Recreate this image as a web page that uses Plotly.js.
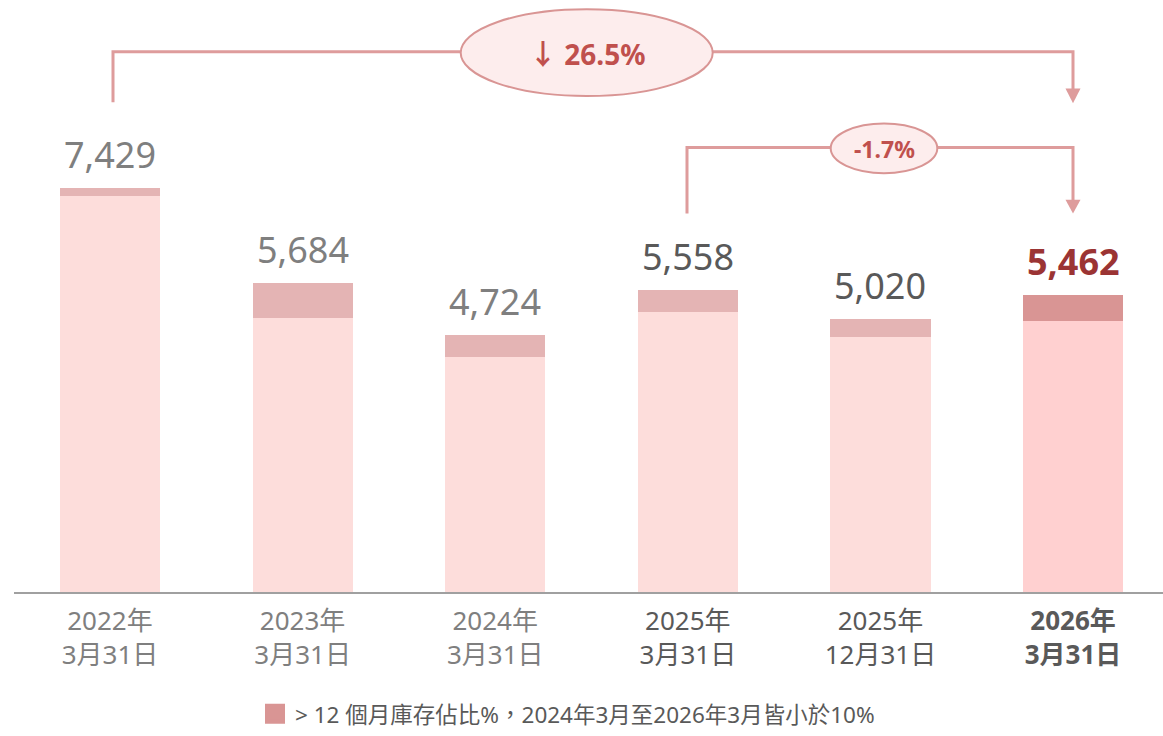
<!DOCTYPE html>
<html>
<head>
<meta charset="utf-8">
<script src="https://cdn.plot.ly/plotly-3.0.1.min.js"></script>
<style>html,body{margin:0;padding:0;background:#fff;}#chart{width:1163px;height:736px;}</style>
</head>
<body>
<div id="chart"></div>
<script>
// ---- data ----
const dateYear = ['2022年', '2023年', '2024年', '2025年', '2025年', '2026年'];
const dateDay = ['3月31日', '3月31日', '3月31日', '3月31日', '12月31日', '3月31日'];
const totals = [7429, 5684, 4724, 5558, 5020, 5462];
const over12 = [150, 650, 400, 407, 330, 474];
const legendText = '> 12 個月庫存佔比%，2024年3月至2026年3月皆小於10%';
const changeLong = '↓ 26.5%';
const changeShort = '-1.7%';

// ---- styling ----
const FONT = 'Noto Sans, Noto Sans CJK TC, sans-serif';
const lowerColors = ['#FDDDDB', '#FDDDDB', '#FDDDDB', '#FDDDDB', '#FDDDDB', '#FFD0D0'];
const upperColors = ['#E4B4B4', '#E4B4B4', '#E4B4B4', '#E4B4B4', '#E4B4B4', '#D99594'];
const labelColors = ['#7F7F7F', '#7F7F7F', '#7F7F7F', '#595959', '#595959', '#9B3434'];
const tickColors = ['#7F7F7F', '#7F7F7F', '#7F7F7F', '#595959', '#595959', '#595959'];

const idx = totals.map((_, i) => i);
const lower = totals.map((t, i) => t - over12[i]);
const tickText = idx.map(i => {
  let t = dateYear[i] + '<br>' + dateDay[i];
  if (i === idx.length - 1) t = '<b>' + t + '</b>';
  return '<span style="color:' + tickColors[i] + '">' + t + '</span>';
});

// plot-area geometry helpers (pixels -> paper)
const PL = 14, PW = 1149, PH = 596;
const fx = px => (px - PL) / PW;
const fy = py => (PH - py) / PH;

const traces = [
  {type: 'bar', x: idx, y: lower, marker: {color: lowerColors}, showlegend: false, hoverinfo: 'skip'},
  {type: 'bar', x: idx, y: over12, marker: {color: upperColors}, showlegend: false, hoverinfo: 'skip'},
  {type: 'scatter', mode: 'markers', x: [null], y: [null], name: legendText, showlegend: true,
   marker: {symbol: 'square', size: 22, color: '#D99594', line: {color: '#D99594', width: 4}}}
];

const annotations = idx.map(i => ({
  x: i, y: totals[i], xref: 'x', yref: 'y', xanchor: 'center', yanchor: 'bottom', yshift: 7,
  text: (i === idx.length - 1 ? '<b>' : '') + totals[i].toLocaleString('en-US') + (i === idx.length - 1 ? '</b>' : ''),
  showarrow: false,
  font: {family: FONT, size: 36, color: labelColors[i]}
}));
annotations.push({
  x: fx(587), y: fy(54), xref: 'paper', yref: 'paper', xanchor: 'center', yanchor: 'middle', showarrow: false,
  text: '<b>' + changeLong + '</b>', font: {family: FONT, size: 28, color: '#C0504D'}
});
annotations.push({
  x: fx(884), y: fy(150), xref: 'paper', yref: 'paper', xanchor: 'center', yanchor: 'middle', showarrow: false,
  text: '<b>' + changeShort + '</b>', font: {family: FONT, size: 23, color: '#C0504D'}
});

const LC = '#DE9C9C';
const shapes = [
  {type: 'path', xref: 'paper', yref: 'paper', layer: 'above',
   path: `M${fx(113)},${fy(103)} L${fx(113)},${fy(52)} L${fx(1073)},${fy(52)} L${fx(1073)},${fy(92)}`,
   line: {color: LC, width: 3}},
  {type: 'path', xref: 'paper', yref: 'paper', layer: 'above',
   path: `M${fx(1065.5)},${fy(89)} L${fx(1080.5)},${fy(89)} L${fx(1073)},${fy(104)} Z`,
   fillcolor: LC, line: {color: LC, width: 0}},
  {type: 'path', xref: 'paper', yref: 'paper', layer: 'above',
   path: `M${fx(687)},${fy(215)} L${fx(687)},${fy(148.5)} L${fx(1073)},${fy(148.5)} L${fx(1073)},${fy(203)}`,
   line: {color: LC, width: 3}},
  {type: 'path', xref: 'paper', yref: 'paper', layer: 'above',
   path: `M${fx(1065.5)},${fy(201)} L${fx(1080.5)},${fy(201)} L${fx(1073)},${fy(215)} Z`,
   fillcolor: LC, line: {color: LC, width: 0}},
  {type: 'circle', xref: 'paper', yref: 'paper', layer: 'above',
   x0: fx(460.7), x1: fx(712.7), y0: fy(96.7), y1: fy(9.3),
   fillcolor: '#FDEDED', line: {color: '#D99594', width: 2}},
  {type: 'circle', xref: 'paper', yref: 'paper', layer: 'above',
   x0: fx(830.7), x1: fx(937.3), y0: fy(174.3), y1: fy(124.3),
   fillcolor: '#FDEDED', line: {color: '#D99594', width: 2}}
];

const layout = {
  width: 1163, height: 736,
  margin: {l: PL, r: 0, t: 0, b: 736 - PH, pad: 0},
  paper_bgcolor: '#ffffff', plot_bgcolor: '#ffffff',
  barmode: 'stack', bargap: 0.48,
  font: {family: FONT},
  xaxis: {
    type: 'linear', range: [-0.4984, 5.467],
    tickmode: 'array', tickvals: idx, ticktext: tickText,
    tickfont: {family: FONT, size: 26, color: '#7F7F7F'},
    ticks: '', showgrid: false, zeroline: false,
    showline: true, linecolor: '#A0A0A0', linewidth: 1.5,
    ticklabelstandoff: 5, fixedrange: true
  },
  yaxis: {range: [0, PH * 18.25], visible: false, fixedrange: true},
  showlegend: true,
  legend: {
    orientation: 'h', x: fx(255), xanchor: 'left', y: fy(719), yanchor: 'middle',
    font: {family: FONT, size: 22.5, color: '#595959'}, bgcolor: 'rgba(0,0,0,0)'
  },
  annotations: annotations,
  shapes: shapes
};

Plotly.newPlot('chart', traces, layout, {displayModeBar: false, staticPlot: true});
</script>
</body>
</html>
